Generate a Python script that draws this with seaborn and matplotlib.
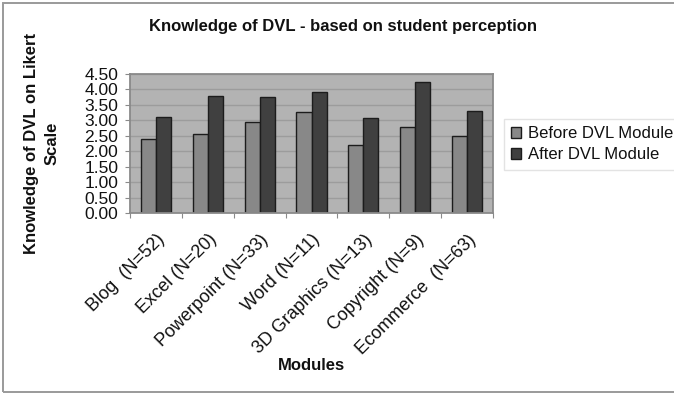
import matplotlib
matplotlib.use("Agg")
import matplotlib.pyplot as plt
from matplotlib.patches import Rectangle
from matplotlib.ticker import FixedLocator, FormatStrFormatter
import pandas as pd
import seaborn as sns

# Survey results: mean self-rated knowledge per module
modules = ["Blog  (N=52)", "Excel (N=20)", "Powerpoint (N=33)", "Word (N=11)",
           "3D Graphics (N=13)", "Copyright (N=9)", "Ecommerce  (N=63)"]
before = [2.41, 2.57, 2.94, 3.28, 2.21, 2.77, 2.49]
after = [3.10, 3.79, 3.74, 3.91, 3.06, 4.23, 3.30]
series_names = ["Before DVL Module", "After DVL Module"]
y_ticks = [0.0, 0.5, 1.0, 1.5, 2.0, 2.5, 3.0, 3.5, 4.0, 4.5]

df = pd.DataFrame({
    "module": modules * 2,
    "phase": [series_names[0]] * len(modules) + [series_names[1]] * len(modules),
    "score": before + after,
})

sns.set_theme(style="white")
plt.rcParams["font.family"] = ["Liberation Sans", "DejaVu Sans"]

W, H = 674, 393
fig = plt.figure(figsize=(W / 100, H / 100), dpi=100)
fig.patch.set_facecolor("white")

# plot area in pixel geometry
x0, x1, y0, y1 = 130, 493, 74, 213
ax = fig.add_axes([x0 / W, 1 - y1 / H, (x1 - x0) / W, (y1 - y0) / H])
ax.set_facecolor("#b3b3b3")

sns.barplot(data=df, x="module", y="score", hue="phase",
            palette=["#888888", "#404040"], width=0.58,
            edgecolor="#1c1c1c", linewidth=1.0, errorbar=None,
            saturation=1, ax=ax)

ax.set_ylim(0, 4.5)
ax.set_xlim(-0.5, len(modules) - 0.5)
ax.set_yticks(y_ticks)
ax.yaxis.set_major_formatter(FormatStrFormatter("%.2f"))
ax.yaxis.grid(True, color="#9c9c9c", linewidth=1.0)
ax.set_axisbelow(True)

for s in ax.spines.values():
    s.set_visible(True)
    s.set_color("#8a8a8a")
    s.set_linewidth(1.3)

ax.tick_params(axis="y", which="major", left=True, length=3.5, width=0.8,
               color="#8a8a8a", pad=5, labelsize=12.5, labelcolor="#111111")
ax.tick_params(axis="x", which="major", bottom=False, length=0, pad=13,
               labelsize=13, labelcolor="#111111")
ax.xaxis.set_minor_locator(FixedLocator([i - 0.5 for i in range(len(modules) + 1)]))
ax.tick_params(axis="x", which="minor", bottom=True, length=3.5, width=0.8,
               color="#8a8a8a")
for lbl in ax.get_xticklabels():
    lbl.set_rotation(45)
    lbl.set_ha("right")
    lbl.set_va("top")
    lbl.set_rotation_mode("anchor")

ax.set_xlabel("")
ax.set_ylabel("Knowledge of DVL on Likert\nScale", fontsize=12,
              fontweight="bold", color="#111111", linespacing=1.45)
ax.yaxis.set_label_coords(-0.195, 0.5)

fig.text(343 / W, 1 - 26 / H, "Knowledge of DVL - based on student perception",
         ha="center", va="center", fontsize=12, fontweight="bold",
         color="#111111")
fig.text(311 / W, 1 - 366 / H, "Modules", ha="center", va="center",
         fontsize=12, fontweight="bold", color="#111111")

handles, labels = ax.get_legend_handles_labels()
if ax.legend_:
    ax.legend_.remove()
leg = fig.legend(handles, labels, loc="upper left",
                 bbox_to_anchor=(504 / W, 1 - 119 / H),
                 bbox_transform=fig.transFigure, fontsize=12,
                 frameon=True, fancybox=False, edgecolor="#dddddd",
                 handlelength=0.6, handleheight=0.6, handletextpad=0.4,
                 labelspacing=0.35, borderpad=0.45, borderaxespad=0)
leg.get_frame().set_linewidth(1.0)
for t in leg.get_texts():
    t.set_color("#111111")

# outer chart border
fig.patches.append(Rectangle((3 / W, 1.5 / H), 1.2, 1 - 4.5 / H,
                             transform=fig.transFigure, fill=False,
                             edgecolor="#9a9a9a", linewidth=1.4,
                             clip_on=True, zorder=0))

fig.savefig("out.png", dpi=100, facecolor="white")
